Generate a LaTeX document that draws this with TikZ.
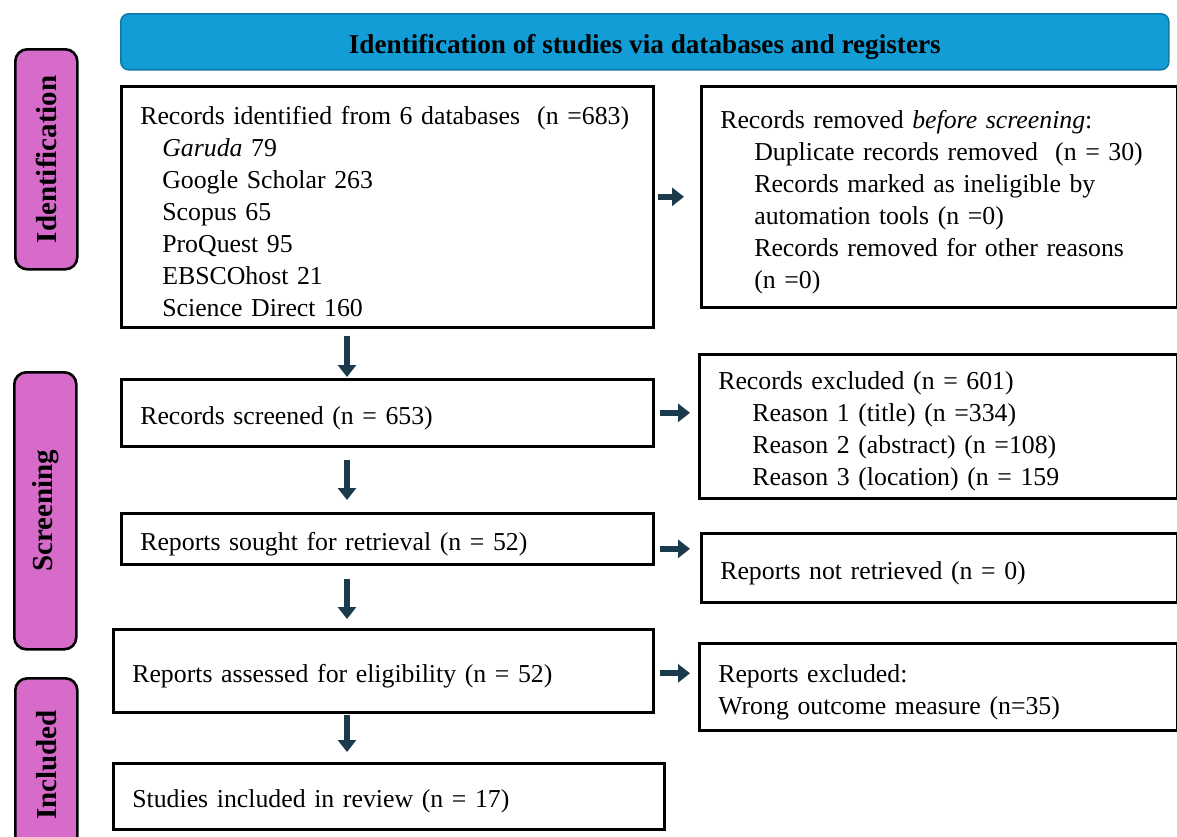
\documentclass[tikz,border=0pt]{standalone}
\usepackage{fontspec}
\setmainfont{Liberation Serif}
\usetikzlibrary{arrows.meta,positioning}

\definecolor{bannerblue}{HTML}{139DD6}
\definecolor{bannerline}{HTML}{0E7AA6}
\definecolor{phasepink}{HTML}{D66BC9}
\definecolor{arrowteal}{HTML}{1B3A4C}

\begin{document}
\begin{tikzpicture}[
    x=0.5pt, y=-0.5pt,
    font=\fontsize{12.9}{16}\selectfont,
    box/.style={rectangle, draw, line width=1.3pt, anchor=north west, align=left, inner xsep=9.5pt, inner ysep=0pt, execute at begin node={\rule{0pt}{14pt}}},
    banner/.style={rectangle, draw=bannerline, line width=0.8pt, fill=bannerblue, rounded corners=4pt, anchor=north west, minimum width=524pt, minimum height=28pt, inner ysep=0pt, text height=15pt, text depth=3pt, font=\fontsize{13.6}{16}\selectfont\bfseries},
    phase/.style={rectangle, draw, line width=1.3pt, fill=phasepink, rounded corners=6pt, anchor=north west, minimum width=31pt, inner sep=0pt, font=\fontsize{14.5}{16}\selectfont\bfseries},
    flow/.style={draw=arrowteal, line width=3pt, -{Triangle[width=9pt,length=6pt]}}
]
\useasboundingbox (0,0) rectangle (1177,836);
\clip (0,0) rectangle (1177,836);

% Header and phases
\node [banner] (head) at (120,13) {Identification of studies via databases and registers};
\node [phase, minimum height=110pt] (ident) at (14,48) {\rotatebox{90}{Identification}};
\node [phase, minimum height=138.5pt] (screen) at (13,371) {\rotatebox{90}{Screening}};
\node [phase, minimum height=86.5pt] (incl) at (14,677) {\rotatebox{90}{Included}};

% Boxes
\node [box, text width=247pt, minimum height=120.5pt] (rec) at (120,85) {Records identified from 6 databases\ \ (n =683)\\
    \hspace*{11pt}\textit{Garuda} 79\\
    \hspace*{11pt}Google Scholar 263\\
    \hspace*{11pt}Scopus 65\\
    \hspace*{11pt}ProQuest 95\\
    \hspace*{11pt}EBSCOhost 21\\
    \hspace*{11pt}Science Direct 160};
\node [box, text width=219pt, minimum height=110.5pt] (rem) at (700,85) {Records removed \textit{before screening}:\\
    \hspace*{17pt}Duplicate records removed\ \ (n = 30)\\
    \hspace*{17pt}Records marked as ineligible by\\
    \hspace*{17pt}automation tools (n =0)\\
    \hspace*{17pt}Records removed for other reasons\\
    \hspace*{17pt}(n =0)};
\node [box, text width=247pt, minimum height=33.5pt] (scr) at (120,378) {Records screened (n = 653)};
\node [box, text width=220pt, minimum height=72pt] (exc) at (698,353) {Records excluded (n = 601)\\
    \hspace*{17pt}Reason 1 (title) (n =334)\\
    \hspace*{17pt}Reason 2 (abstract) (n =108)\\
    \hspace*{17pt}Reason 3 (location) (n = 159};
\node [box, text width=247pt, minimum height=25.5pt] (sought) at (120,512) {Reports sought for retrieval (n = 52)};
\node [box, text width=219pt, minimum height=34.5pt] (notret) at (700,532) {Reports not retrieved (n = 0)};
\node [box, text width=251pt, minimum height=41.5pt] (assess) at (112,628) {Reports assessed for eligibility (n = 52)};
\node [box, text width=220pt, minimum height=43.5pt] (excl) at (698,642) {Reports excluded:\\Wrong outcome measure (n=35)};
\node [box, text width=256.5pt, minimum height=33pt] (incstud) at (112,762) {Studies included in review (n = 17)};
\coordinate (colx) at (347,0);

% Edges
\draw [flow, shorten <=3.5pt, shorten >=0.5pt] (rec.south -| colx) -- (scr.north -| colx);
\draw [flow, shorten <=6pt, shorten >=6pt] (scr.south -| colx) -- (sought.north -| colx);
\draw [flow, shorten <=6.5pt, shorten >=4.5pt] (sought.south -| colx) -- (assess.north -| colx);
\draw [flow, shorten <=0.5pt, shorten >=5pt] (assess.south -| colx) -- (incstud.north -| colx);
\draw [flow, shorten <=1.5pt, shorten >=8pt] (rec.east |- rem.west) -- (rem.west);
\draw [flow, shorten <=2.5pt, shorten >=4pt] (scr.east) -- (scr.east -| exc.west);
\draw [flow, shorten <=2.5pt, shorten >=5pt] ([yshift=-5pt]sought.east) -- ([yshift=-5pt]sought.east -| notret.west);
\draw [flow, shorten <=2.5pt, shorten >=4pt] ([yshift=-1.25pt]assess.east) -- ([yshift=-1.25pt]assess.east -| excl.west);
\end{tikzpicture}
\end{document}
